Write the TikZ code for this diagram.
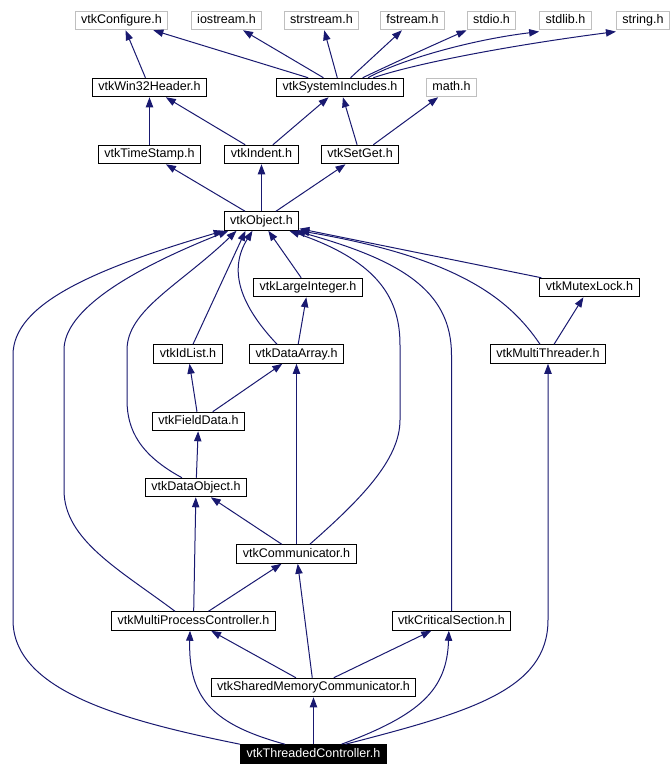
\documentclass[tikz,border=0pt]{standalone}
\usepackage{fontspec}
\setmainfont{Liberation Sans}
\usetikzlibrary{arrows.meta}
\definecolor{edgeblue}{HTML}{191970}
\definecolor{sysgray}{HTML}{BFBFBF}

\begin{document}
\begin{tikzpicture}[x=0.75pt, y=-0.75pt,
        every node/.style={font=\fontsize{9.4pt}{11pt}\selectfont, inner xsep=4.5pt, inner ysep=0pt,
            text height=6.8pt, text depth=1.9pt, minimum height=13.9pt, line width=0.75pt},
        hdr/.style={draw=black, fill=white},
        syshdr/.style={draw=sysgray, fill=white},
        curhdr/.style={draw=black, fill=black, text=white},
        dep/.style={draw=edgeblue, line width=0.75pt, -{Triangle[length=7.5pt, width=5.5pt]}}]
        \useasboundingbox (0,0) rectangle (672,776);
    % Below nodes are the system headers.
        \node[syshdr] (conf) at (121.5,20.5) {vtkConfigure.h};
        \node[syshdr] (iostr) at (226.5,20.5) {iostream.h};
        \node[syshdr] (sstr) at (321.5,20.5) {strstream.h};
        \node[syshdr] (fstr) at (412.5,20.5) {fstream.h};
        \node[syshdr] (stdio) at (491.5,20.5) {stdio.h};
        \node[syshdr] (stdlib) at (565.5,20.5) {stdlib.h};
        \node[syshdr] (string) at (643,20.5) {string.h};
        \node[syshdr] (math) at (451.5,87.5) {math.h};
    % Below nodes are the vtk headers.
        \node[hdr] (win) at (149.5,87.5) {vtkWin32Header.h};
        \node[hdr] (sysinc) at (340,87.5) {vtkSystemIncludes.h};
        \node[hdr] (tstamp) at (149.5,154.5) {vtkTimeStamp.h};
        \node[hdr] (indent) at (261.5,154.5) {vtkIndent.h};
        \node[hdr] (setget) at (360,154.5) {vtkSetGet.h};
        \node[hdr] (obj) at (261.5,221) {vtkObject.h};
        \node[hdr] (lint) at (308,287.5) {vtkLargeInteger.h};
        \node[hdr] (mutex) at (589.5,287.5) {vtkMutexLock.h};
        \node[hdr] (idl) at (188,354) {vtkIdList.h};
        \node[hdr] (darr) at (296.5,354) {vtkDataArray.h};
        \node[hdr] (mthr) at (548,354) {vtkMultiThreader.h};
        \node[hdr] (fdata) at (198.5,421.5) {vtkFieldData.h};
        \node[hdr] (dobj) at (196,487.5) {vtkDataObject.h};
        \node[hdr] (comm) at (296.5,554) {vtkCommunicator.h};
        \node[hdr] (mpc) at (193.5,621) {vtkMultiProcessController.h};
        \node[hdr] (crit) at (451.5,621) {vtkCriticalSection.h};
        \node[hdr] (smc) at (313.5,687.5) {vtkSharedMemoryCommunicator.h};
        \node[curhdr] (tc) at (313.5,754) {vtkThreadedController.h};
    % Top rows of includes.
        \draw[dep] (win) -- (conf);
        \draw[dep] (sysinc) -- (conf);
        \draw[dep] (sysinc) -- (iostr);
        \draw[dep] (sysinc) -- (sstr);
        \draw[dep] (sysinc) -- (fstr);
        \draw[dep] ([xshift=17pt]sysinc.north) .. controls (400,60) and (440,42) .. (stdio.south west);
        \draw[dep] ([xshift=21pt]sysinc.north) .. controls (400,60) and (470,40) .. ([yshift=-1pt]stdlib.south west);
        \draw[dep] ([xshift=25pt]sysinc.north) .. controls (420,62) and (520,44) .. ([yshift=-1pt]string.south west);
        \draw[dep] (tstamp) -- (win);
        \draw[dep] (indent) -- (win);
        \draw[dep] (indent) -- (sysinc);
        \draw[dep] (setget) -- (sysinc);
        \draw[dep] (setget) -- (math);
        \draw[dep] (obj) -- (tstamp);
        \draw[dep] (obj) -- (indent);
        \draw[dep] (obj) -- (setget);
    % Everything that goes up to vtkObject.h.
        \draw[dep] (tc.north west) .. controls (120,720) and (13,690) .. (13,620) -- (13,355)
            .. controls (13,305) and (90,270) .. (obj.south west);
        \draw[dep] ([xshift=-13.9pt]mpc.north) .. controls (120,570) and (64,540) .. (64,490) -- (64,350)
            .. controls (64,310) and (130,270) .. ([xshift=-24.75pt]obj.south);
        \draw[dep] ([xshift=-10.5pt]dobj.north) .. controls (140,455) and (127,430) .. (127,400) -- (127,350)
            .. controls (127,310) and (180,285) .. ([xshift=-18.75pt]obj.south);
        \draw[dep] ([xshift=3.75pt]idl.north) -- ([xshift=-12pt]obj.south);
        \draw[dep] ([xshift=-14.6pt]darr.north) .. controls (240,305) and (228,270) .. ([xshift=-6.75pt]obj.south);
        \draw[dep] (lint) -- (obj);
        \draw[dep] ([xshift=10pt]comm.north) .. controls (360,500) and (400,460) .. (400,420) -- (400,345)
            .. controls (400,300) and (380,262) .. ([xshift=-7.5pt]obj.south east);
        \draw[dep] (crit.north) -- (451.5,355) .. controls (451.5,290) and (400,260) .. ([xshift=-3pt]obj.south east);
        \draw[dep] ([xshift=-6pt]mthr.north) .. controls (510,300) and (460,258) .. (obj.south east);
        \draw[dep] (mutex) -- (obj);
    % The lower part of the graph.
        \draw[dep] (darr) -- (lint);
        \draw[dep] (mthr) -- (mutex);
        \draw[dep] (fdata) -- (idl);
        \draw[dep] (fdata) -- (darr);
        \draw[dep] (dobj) -- (fdata);
        \draw[dep] (comm) -- (dobj);
        \draw[dep] (comm) -- (darr);
        \draw[dep] (mpc) -- (dobj);
        \draw[dep] (mpc) -- (comm);
        \draw[dep] (smc) -- (comm);
        \draw[dep] (smc) -- (mpc);
        \draw[dep] (smc) -- (crit);
        \draw[dep] (tc) -- (smc);
        \draw[dep] ([xshift=-21.4pt]tc.north) .. controls (215,725) and (188,700) .. ([xshift=-2.6pt]mpc.south);
        \draw[dep] ([xshift=21pt]tc.north) .. controls (420,715) and (447,690) .. ([xshift=-2pt]crit.south);
        \draw[dep] ([xshift=24pt]tc.north) .. controls (470,712) and (548,690) .. (548,620) -- (mthr.south);
    \end{tikzpicture}
\end{document}
